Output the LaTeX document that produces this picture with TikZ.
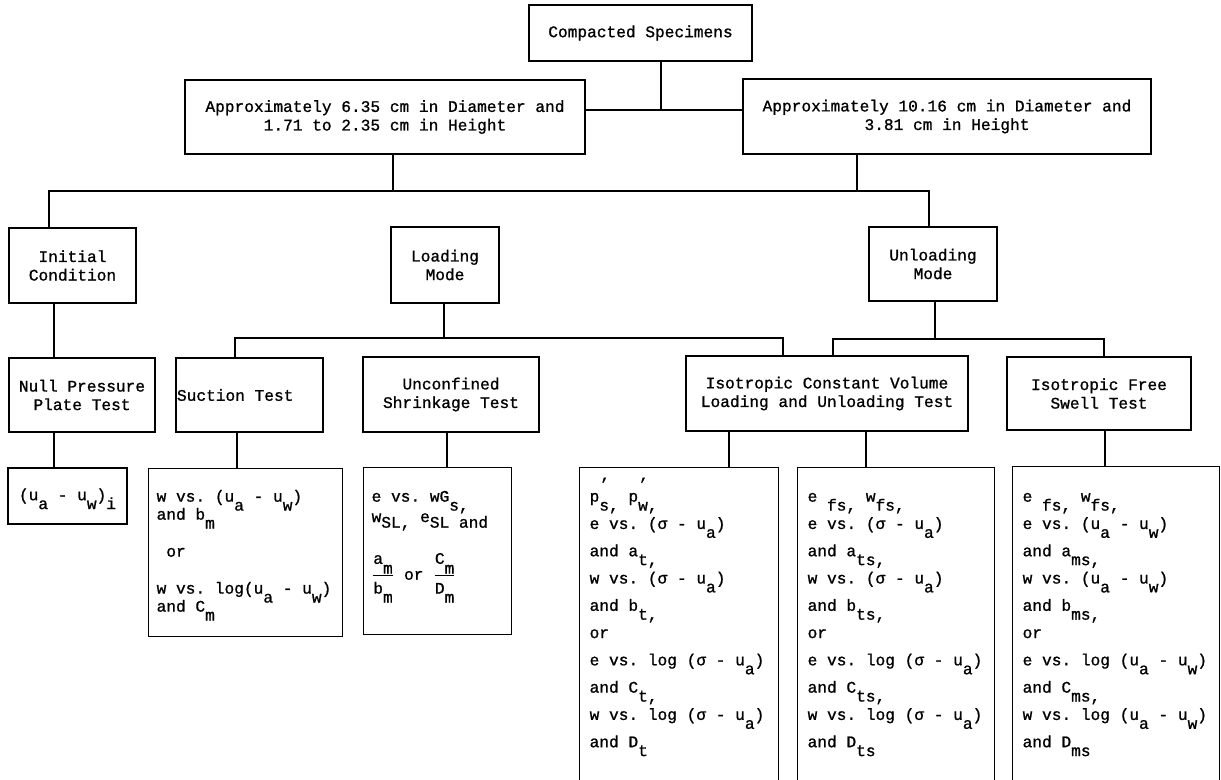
\documentclass[tikz,border=0pt]{standalone}
\usepackage{fontspec}
\setmainfont{Liberation Mono}[WordSpace={1,0,0},FakeBold=1]
\frenchspacing

% typewriter style sub- and superscripts
\newcommand{\lowr}[1]{\raisebox{-0.55em}[0pt][0pt]{#1}}
\newcommand{\highr}[1]{\raisebox{0.35em}[0pt][0pt]{#1}}
\newcommand{\ptick}{\rlap{\raisebox{0.75em}[0pt][0pt]{'}}}
% stacked ratio, numerator sitting on the bar
\newcommand{\ratio}[2]{$\displaystyle\frac{\mbox{#1}}{\mbox{\rule{0pt}{1.0em}#2}}$}

\begin{document}
\begin{tikzpicture}[x=0.025cm,y=-0.025cm,line width=0.9pt,
    tbox/.style={draw,align=center,inner sep=0pt,font=\fontsize{11.5}{13.2}\selectfont},
    dbox/.style={draw,anchor=north west,align=flush left,inner ysep=0pt,inner xsep=0.25cm,
                 font=\fontsize{11.5}{19.4}\selectfont}]
      \useasboundingbox (0,0) rectangle (1221,779);
      \clip (0,0) rectangle (1221,779);

      \draw (640.5,33) node
      [tbox,minimum width=5.575cm,minimum height=1.4cm]
      (spec) {Compacted Specimens};

      \draw (385,117) node
      [tbox,minimum width=10cm,minimum height=1.85cm]
      (dia1) {Approximately 6.35 cm in Diameter and\\1.71 to 2.35 cm in Height};

      \draw (947,116.5) node
      [tbox,minimum width=10.2cm,minimum height=1.875cm]
      (dia2) {Approximately 10.16 cm in Diameter and\\3.81 cm in Height};

      \draw (72.5,265.5) node
      [tbox,minimum width=3.175cm,minimum height=1.875cm]
      (init) {Initial\\Condition};

      \draw (445,265) node
      [tbox,minimum width=2.7cm,minimum height=1.9cm]
      (load) {Loading\\Mode};

      \draw (933,264) node
      [tbox,minimum width=3.2cm,minimum height=1.85cm]
      (unload) {Unloading\\Mode};

      \draw (82,395) node
      [tbox,minimum width=3.65cm,minimum height=1.85cm]
      (npp) {Null Pressure\\Plate Test};

      \draw (249.5,395) node
      [tbox,align=flush left,text width=3.625cm,inner xsep=0.025cm,minimum height=1.85cm] %,inner sep=1ex]
      (suct) {Suction Test};

      \draw (451,394.5) node
      [tbox,minimum width=4.4cm,minimum height=1.875cm]
      (uncs) {Unconfined\\Shrinkage Test};

      \draw (827,393.5) node
      [tbox,minimum width=7.05cm,minimum height=1.875cm]
      (iso) {Isotropic Constant Volume\\Loading and Unloading Test};

      \draw (1099,393.5) node
      [tbox,minimum width=4.6cm,minimum height=1.825cm]
      (free) {Isotropic Free\\Swell Test};

      \draw (67.5,496) node
      [tbox,minimum width=2.975cm,minimum height=1.4cm]
      (res1) {(u\lowr{a} - u\lowr{w})\lowr{i}};

      \draw (148,468) node
      [dbox,inner xsep=0.2cm,text width=4.45cm,text height=0.825cm,text depth=3.375cm,
       font=\fontsize{11.5}{12.8}\selectfont]
      (res2) {w vs. (u\lowr{a} - u\lowr{w})\\
              and b\lowr{m}\\[13.5pt]
              \hspace*{0.6em}or\\[13.5pt]
              w vs. log(u\lowr{a} - u\lowr{w})\\
              and C\lowr{m}};

      \draw (363,467) node
      [dbox,inner xsep=0.2cm,text width=3.3cm,text height=0.85cm,text depth=3.325cm,
       font=\fontsize{11.5}{18.5}\selectfont]
      (res3) {e vs. wG\lowr{s,}\\
              \highr{w}SL, \highr{e}SL and\\[15pt]
              \ratio{a\raisebox{-0.6em}{m}}{b\lowr{m}} or
              \ratio{C\raisebox{-0.6em}{m}}{D\lowr{m}}};

      \draw (579,467) node
      [dbox,text width=4.475cm,text height=0.85cm,text depth=8.25cm]
      (res4) {p\ptick\lowr{s,} p\ptick\lowr{w,}\\
              e vs. (σ - u\lowr{a})\\
              and a\lowr{t,}\\
              w vs. (σ - u\lowr{a})\\
              and b\lowr{t,}\\
              or\\
              e vs. log (σ - u\lowr{a})\\
              and C\lowr{t,}\\
              w vs. log (σ - u\lowr{a})\\
              and D\lowr{t}};

      \draw (797,467) node
      [dbox,text width=4.425cm,text height=0.85cm,text depth=8.25cm]
      (res5) {e \lowr{fs,} w\lowr{fs,}\\
              e vs. (σ - u\lowr{a})\\
              and a\lowr{ts,}\\
              w vs. (σ - u\lowr{a})\\
              and b\lowr{ts,}\\
              or\\
              e vs. log (σ - u\lowr{a})\\
              and C\lowr{ts,}\\
              w vs. log (σ - u\lowr{a})\\
              and D\lowr{ts}};

      \draw (1012,466) node
      [dbox,text width=4.675cm,text height=0.875cm,text depth=8.25cm]
      (res6) {e \lowr{fs,} w\lowr{fs,}\\
              e vs. (u\lowr{a} - u\lowr{w})\\
              and a\lowr{ms,}\\
              w vs. (u\lowr{a} - u\lowr{w})\\
              and b\lowr{ms,}\\
              or\\
              e vs. log (u\lowr{a} - u\lowr{w})\\
              and C\lowr{ms,}\\
              w vs. log (u\lowr{a} - u\lowr{w})\\
              and D\lowr{ms}};

      % junctions of the connecting lines
      \coordinate (j0) at (661,110);
      \coordinate (j1) at (393,191);
      \coordinate (j2) at (857,191);
      \coordinate (b1l) at (49,191);
      \coordinate (b1r) at (929,191);
      \coordinate (j3) at (444,338);
      \coordinate (b2l) at (235,338);
      \coordinate (b2r) at (783,338);
      \coordinate (j4) at (935,339);
      \coordinate (b3l) at (833,339);
      \coordinate (b3r) at (1104,339);
      \coordinate (t1) at (54,0);
      \coordinate (t2) at (237,0);
      \coordinate (t3) at (447,0);
      \coordinate (t4) at (729,0);
      \coordinate (t5) at (866,0);
      \coordinate (t6) at (1105,0);

      \scope[color=black]
        \draw (spec.south -| j0) -- (j0);
        \draw (dia1.east |- j0) -- (dia2.west |- j0);
        \draw (dia1.south -| j1) -- (j1);
        \draw (dia2.south -| j2) -- (j2);
        \draw (init.north -| b1l) -- (b1l) -- (b1r) -- (unload.north -| b1r);
        \draw (load.south -| j3) -- (j3);
        \draw (suct.north -| b2l) -- (b2l) -- (b2r) -- (iso.north -| b2r);
        \draw (unload.south -| j4) -- (j4);
        \draw (iso.north -| b3l) -- (b3l) -- (b3r) -- (free.north -| b3r);
        \draw (init.south -| t1) -- (npp.north -| t1);
        \draw (npp.south -| t1)  -- (res1.north -| t1);
        \draw (suct.south -| t2) -- (res2.north -| t2);
        \draw (uncs.south -| t3) -- (res3.north -| t3);
        \draw (iso.south -| t4)  -- (res4.north -| t4);
        \draw (iso.south -| t5)  -- (res5.north -| t5);
        \draw (free.south -| t6) -- (res6.north -| t6);
      \endscope
   \end{tikzpicture}
\end{document}
